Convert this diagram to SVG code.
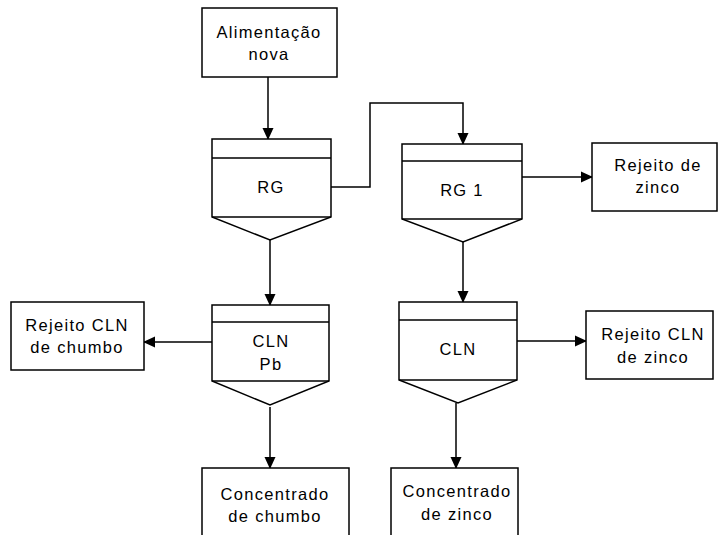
<svg xmlns="http://www.w3.org/2000/svg" width="718" height="535" viewBox="0 0 718 535">
<defs>
<marker id="ah" markerWidth="12" markerHeight="12" refX="11" refY="6" orient="auto" markerUnits="userSpaceOnUse">
<path d="M0,0.5 L12,6 L0,11.5 Z" fill="#000"/>
</marker>
<style>
.b{fill:#fff;stroke:#000;stroke-width:1.5}
.c{fill:none;stroke:#000;stroke-width:1.5;marker-end:url(#ah)}
text{font-family:"Liberation Sans",Arial,sans-serif;font-size:16.5px;text-anchor:middle;fill:#000;letter-spacing:1.3px}
</style>
</defs>
<rect width="718" height="535" fill="#fff"/>
<g id="connectors">
<path class="c" d="M268,77 V139"/>
<path class="c" d="M331,187 H370 V103 H463 V144"/>
<path class="c" d="M522,177 H592"/>
<path class="c" d="M270,240 V305"/>
<path class="c" d="M463,242 V302"/>
<path class="c" d="M212,342 H144"/>
<path class="c" d="M517,341 H586"/>
<path class="c" d="M270,407 V468"/>
<path class="c" d="M456,403 V468"/>
</g>
<g id="alimentacao">
<rect class="b" x="202" y="8" width="135" height="69"/>
<text x="269" y="38">Alimentação</text>
<text x="269" y="60">nova</text>
</g>
<g id="rg">
<path class="b" d="M212,139 H331 V217 L270,240 L212,217 Z"/>
<path class="b" d="M212,158 H331 M212,217 H331"/>
<text x="271" y="193">RG</text>
</g>
<g id="rg1">
<path class="b" d="M402,144 H522 V219 L463,242 L402,219 Z"/>
<path class="b" d="M402,161 H522 M402,219 H522"/>
<text x="462" y="196">RG 1</text>
</g>
<g id="rejeito-zinco">
<rect class="b" x="592" y="143" width="125" height="68"/>
<text x="658" y="171">Rejeito de</text>
<text x="658" y="193">zinco</text>
</g>
<g id="cln-pb">
<path class="b" d="M212,305 H329 V381 L270,405 L212,381 Z"/>
<path class="b" d="M212,322 H329 M212,381 H329"/>
<text x="271" y="347">CLN</text>
<text x="271" y="370">Pb</text>
</g>
<g id="rejeito-cln-chumbo">
<rect class="b" x="11" y="302" width="133" height="68"/>
<text x="77" y="331">Rejeito CLN</text>
<text x="77" y="353">de chumbo</text>
</g>
<g id="cln">
<path class="b" d="M399,302 H517 V380 L458,403 L399,380 Z"/>
<path class="b" d="M399,320 H517 M399,380 H517"/>
<text x="458" y="355">CLN</text>
</g>
<g id="rejeito-cln-zinco">
<rect class="b" x="586" y="311" width="127" height="68"/>
<text x="653" y="340">Rejeito CLN</text>
<text x="653" y="363">de zinco</text>
</g>
<g id="concentrado-chumbo">
<rect class="b" x="202" y="468" width="147" height="80"/>
<text x="275" y="500">Concentrado</text>
<text x="275" y="522">de chumbo</text>
</g>
<g id="concentrado-zinco">
<rect class="b" x="391" y="468" width="127" height="80"/>
<text x="457" y="497">Concentrado</text>
<text x="457" y="520">de zinco</text>
</g>
</svg>
